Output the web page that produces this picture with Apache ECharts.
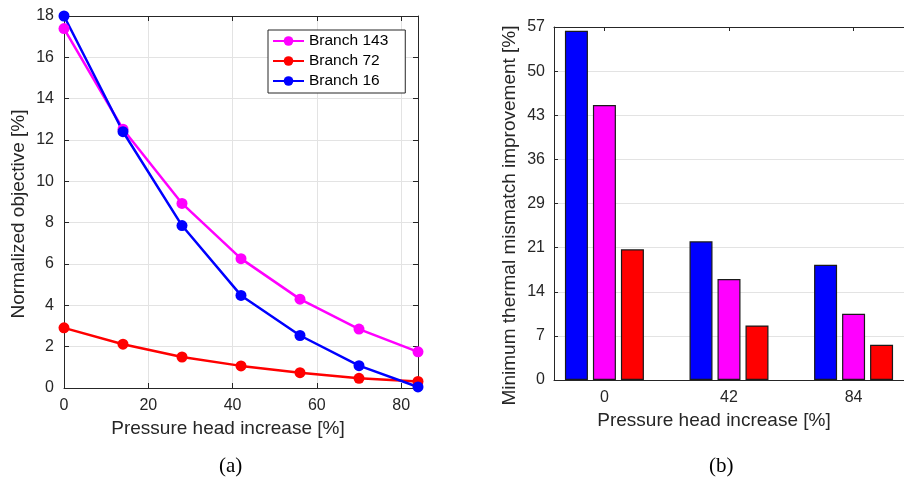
<!DOCTYPE html>
<html>
<head>
<meta charset="utf-8">
<script src="https://cdn.jsdelivr.net/npm/echarts@6/dist/echarts.min.js"></script>
<style>
  html, body { margin: 0; padding: 0; background: #ffffff; }
  #chart { width: 904px; height: 490px; }
</style>
</head>
<body>
<div id="chart"></div>
<script>
// Panel (a): normalized objective against pressure head increase
const pressureSteps = [0, 14, 28, 42, 56, 70, 84];
const branch143 = [17.39, 12.52, 8.93, 6.26, 4.30, 2.85, 1.75];
const branch72 = [2.91, 2.12, 1.50, 1.07, 0.74, 0.47, 0.32];
const branch16 = [18.0, 12.40, 7.86, 4.48, 2.54, 1.08, 0.05];

// Panel (b): minimum thermal mismatch improvement per pressure step
const pressureGroups = [0, 42, 84];
const improvement16 = [56.4, 22.4, 18.6];
const improvement143 = [44.4, 16.3, 10.7];
const improvement72 = [21.1, 8.8, 5.7];
const mismatchTickLabels = ['0', '7', '14', '21', '29', '36', '43', '50', '57'];
const mismatchMax = 57;

const panelCaptions = ['(a)', '(b)'];

const FONT = 'Liberation Sans, Arial, Helvetica, sans-serif';
const INK = '#262626';
const GRIDLINE = '#e3e3e3';
const MAGENTA = '#ff00ff';
const RED = '#ff0000';
const BLUE = '#0000ff';

const zip = (xs, ys) => xs.map((x, i) => [x, ys[i]]);
const mismatchStep = mismatchMax / (mismatchTickLabels.length - 1);

// Box-style axis: line on the grid edge, inward ticks, no labels by default
const frameAxis = (extra) => Object.assign({
  axisLine: { show: true, onZero: false, lineStyle: { color: INK, width: 1 } },
  axisTick: { show: true, inside: true, length: 5, lineStyle: { color: INK } },
  axisLabel: { show: false },
  splitLine: { show: false }
}, extra);

const lineSeries = (name, values, color) => ({
  name: name,
  type: 'line',
  xAxisIndex: 0,
  yAxisIndex: 0,
  data: zip(pressureSteps, values),
  symbol: 'circle',
  symbolSize: 11,
  lineStyle: { color: color, width: 2.5 },
  itemStyle: { color: color },
  emphasis: { disabled: true }
});

const barSeries = (name, values, color) => ({
  name: name,
  type: 'bar',
  xAxisIndex: 2,
  yAxisIndex: 2,
  data: zip(pressureGroups, values),
  barWidth: 23,
  barGap: '21.7%',
  itemStyle: { color: color, borderColor: '#1a1a1a', borderWidth: 1.2 },
  emphasis: { disabled: true }
});

const chart = echarts.init(document.getElementById('chart'), null, { renderer: 'canvas' });

chart.setOption({
  animation: false,
  backgroundColor: '#ffffff',
  textStyle: { fontFamily: FONT, color: INK },
  grid: [
    { left: 64, top: 16, width: 354, height: 372 },
    { left: 554, top: 27, width: 355, height: 353 }
  ],
  xAxis: [
    frameAxis({
      gridIndex: 0, type: 'value', position: 'bottom',
      min: 0, max: 84, interval: 20,
      axisLabel: { show: true, fontSize: 16, color: INK, margin: 10, fontFamily: FONT, showMaxLabel: false },
      splitLine: { show: true, lineStyle: { color: GRIDLINE, width: 1 } },
      name: 'Pressure head increase [%]', nameLocation: 'middle', nameGap: 29,
      nameTextStyle: { fontSize: 19, color: INK, fontFamily: FONT, padding: [0, 26, 0, 0] }
    }),
    frameAxis({ gridIndex: 0, type: 'value', position: 'top', min: 0, max: 84, interval: 20 }),
    frameAxis({
      gridIndex: 1, type: 'value', position: 'bottom',
      min: -17, max: 101,
      axisTick: { show: false },
      axisLabel: { show: true, fontSize: 16, color: INK, margin: 10, fontFamily: FONT, customValues: pressureGroups },
      name: 'Pressure head increase [%]', nameLocation: 'middle', nameGap: 26,
      nameTextStyle: { fontSize: 19, color: INK, fontFamily: FONT, padding: [0, 30, 0, 0] }
    }),
    frameAxis({
      gridIndex: 1, type: 'value', position: 'top',
      min: -17, max: 101,
      axisTick: { show: true, inside: true, length: 4, lineStyle: { color: INK }, customValues: pressureGroups }
    })
  ],
  yAxis: [
    frameAxis({
      gridIndex: 0, type: 'value', position: 'left',
      min: 0, max: 18, interval: 2,
      axisLabel: { show: true, fontSize: 16, color: INK, margin: 10, fontFamily: FONT },
      splitLine: { show: true, lineStyle: { color: GRIDLINE, width: 1 } },
      name: 'Normalized objective [%]', nameLocation: 'middle', nameGap: 36, nameRotate: 90,
      nameTextStyle: { fontSize: 19, color: INK, fontFamily: FONT, padding: [0, 24, 0, 0] }
    }),
    frameAxis({ gridIndex: 0, type: 'value', position: 'right', min: 0, max: 18, interval: 2 }),
    frameAxis({
      gridIndex: 1, type: 'value', position: 'left',
      min: 0, max: mismatchMax, interval: mismatchStep,
      axisTick: { show: true, inside: true, length: 4, lineStyle: { color: INK } },
      axisLabel: {
        show: true, fontSize: 16, color: INK, margin: 9, fontFamily: FONT,
        formatter: (v) => mismatchTickLabels[Math.round(v / mismatchStep)]
      },
      splitLine: { show: true, lineStyle: { color: GRIDLINE, width: 1 } },
      name: 'Minimum thermal mismatch improvement [%]', nameLocation: 'middle', nameGap: 35, nameRotate: 90,
      nameTextStyle: { fontSize: 19, color: INK, fontFamily: FONT, padding: [0, 24, 0, 0] }
    })
  ],
  legend: {
    data: ['Branch 143', 'Branch 72', 'Branch 16'],
    orient: 'vertical',
    left: 268,
    top: 30,
    backgroundColor: '#ffffff',
    borderColor: INK,
    borderWidth: 1,
    borderRadius: 0,
    padding: [2, 17, 3, 4],
    itemWidth: 31,
    itemHeight: 12,
    itemGap: 2,
    itemTextGap: 4,
    selectedMode: false,
    textStyle: { fontSize: 15.5, color: '#000000', fontFamily: FONT, lineHeight: 18 }
  },
  graphic: [
    { type: 'text', left: 230 - 11, top: 456, style: { text: panelCaptions[0], font: '21px "Liberation Serif", "DejaVu Serif", serif', fill: '#000' } },
    { type: 'text', left: 720 - 11, top: 456, style: { text: panelCaptions[1], font: '21px "Liberation Serif", "DejaVu Serif", serif', fill: '#000' } }
  ],
  series: [
    lineSeries('Branch 143', branch143, MAGENTA),
    lineSeries('Branch 72', branch72, RED),
    lineSeries('Branch 16', branch16, BLUE),
    barSeries('Branch 16 improvement', improvement16, BLUE),
    barSeries('Branch 143 improvement', improvement143, MAGENTA),
    barSeries('Branch 72 improvement', improvement72, RED)
  ]
});
</script>
</body>
</html>
